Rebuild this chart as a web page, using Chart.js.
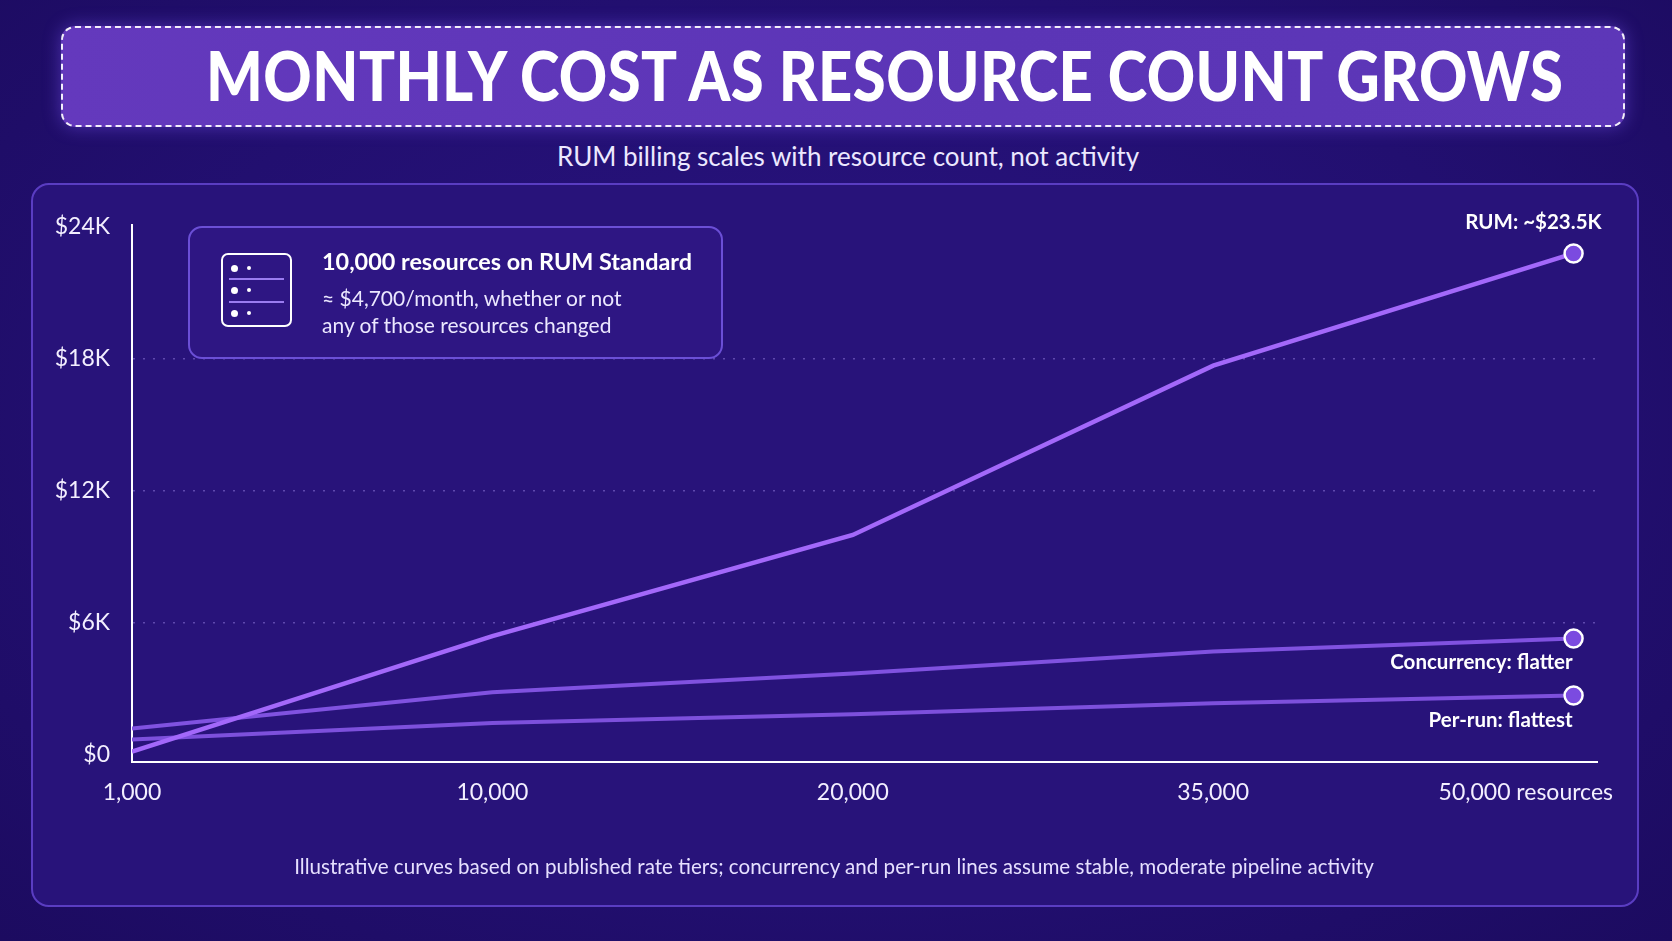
<!DOCTYPE html>
<html>
<head>
<meta charset="utf-8">
<title>Monthly cost as resource count grows</title>
<script src="https://cdn.jsdelivr.net/npm/chart.js@4"></script>
<style>
  html, body { margin: 0; padding: 0; }
  body {
    width: 1672px; height: 941px; position: relative; overflow: hidden;
    font-family: Lato, 'Open Sans', sans-serif; color: #fff;
    background: radial-gradient(ellipse at 50% 45%, #2a1482 0%, #220f70 60%, #1c0b60 100%);
  }
  .titlebox {
    position: absolute; left: 61px; top: 26px; width: 1564px; height: 101px; box-sizing: border-box;
    border: 2.5px dashed rgba(255,255,255,0.92); border-radius: 14px;
    background: linear-gradient(90deg, #6439bd, #5b35b6 60%, #5d37b8);
    box-shadow: 0 0 18px rgba(130,90,255,0.45);
  }
  .title {
    position: absolute; left: 206px; top: 41px; font-size: 68px; line-height: 68px;
    font-weight: 900; letter-spacing: 0.5px; white-space: nowrap; transform-origin: 0 50%;
  }
  .subtitle {
    position: absolute; left: 0; width: 1696px; top: 143px; text-align: center;
    font-size: 26px; line-height: 26px; color: #ece8ff;
  }
  .panel {
    position: absolute; left: 31px; top: 183px; width: 1608px; height: 724px; box-sizing: border-box;
    border: 2px solid #5a3dc2; border-radius: 18px; background: #28137a;
  }
  #chart { position: absolute; left: 31px; top: 183px; }
  .card {
    position: absolute; left: 188px; top: 226px; width: 535px; height: 133px; box-sizing: border-box;
    border: 2px solid #6b4fd6; border-radius: 14px; background: rgba(58,30,150,0.35);
  }
  .icon {
    position: absolute; left: 31px; top: 25px; width: 71px; height: 74px; box-sizing: border-box;
    border: 2px solid #fff; border-radius: 7px;
  }
  .icon .sep { position: absolute; left: 6px; right: 6px; height: 2px; background: #9a7cf0; }
  .icon .dot { position: absolute; border-radius: 50%; background: #fff; }
  .card .h {
    position: absolute; left: 132px; top: 21px; font-size: 23.4px; line-height: 24px; font-weight: 700; white-space: nowrap;
  }
  .card .p {
    position: absolute; left: 132px; top: 56px; font-size: 21px; line-height: 27px; color: #ece8ff; white-space: nowrap;
  }
  .footer {
    position: absolute; left: 0; width: 1668px; top: 856px; text-align: center;
    font-size: 20.6px; line-height: 21px; color: #e6e0ff;
  }
</style>
</head>
<body>
<div class="titlebox"></div>
<div class="title" id="title">MONTHLY COST AS RESOURCE COUNT GROWS</div>
<div class="subtitle">RUM billing scales with resource count, not activity</div>
<div class="panel"></div>
<canvas id="chart" width="1608" height="724"></canvas>
<div class="card">
  <div class="icon">
    <div class="dot" style="left:8px;top:10px;width:7px;height:7px"></div>
    <div class="dot" style="left:24px;top:11px;width:4px;height:4px"></div>
    <div class="sep" style="top:23px"></div>
    <div class="dot" style="left:8px;top:32px;width:7px;height:7px"></div>
    <div class="dot" style="left:24px;top:33px;width:4px;height:4px"></div>
    <div class="sep" style="top:46px"></div>
    <div class="dot" style="left:8px;top:55px;width:7px;height:7px"></div>
    <div class="dot" style="left:24px;top:56px;width:4px;height:4px"></div>
  </div>
  <div class="h">10,000 resources on RUM Standard</div>
  <div class="p">≈ $4,700/month, whether or not<br>any of those resources changed</div>
</div>
<div class="footer">Illustrative curves based on published rate tiers; concurrency and per-run lines assume stable, moderate pipeline activity</div>

<script>
// chart data
const categories = ['1,000', '10,000', '20,000', '35,000', '50,000 resources'];
const rumCost = [150, 5400, 10000, 17700, 22800];
const concurrencyCost = [1200, 2850, 3700, 4700, 5300];
const perRunCost = [700, 1450, 1850, 2350, 2700];
const yTicks = [0, 6000, 12000, 18000, 24000];
const yTickLabels = ['$0', '$6K', '$12K', '$18K', '$24K'];
const seriesNames = ['RUM', 'Concurrency', 'Per-run'];
const endLabels = ['RUM: ~$23.5K', 'Concurrency: flatter', 'Per-run: flattest'];

// squeeze the title to the width of the banner text
const titleEl = document.getElementById('title');
titleEl.style.transform = 'scaleX(' + (1357 / titleEl.scrollWidth) + ')';

function toPoints(values) {
  return values.map((v, i) => ({ x: i, y: v }));
}

function endMarker(values) {
  return values.map((v, i) => i === values.length - 1 ? 9 : 0);
}

// draws the category labels under the axis, kept inside the panel
const xLabelPlugin = {
  id: 'xLabels',
  afterDraw(chart) {
    const scale = chart.scales.x;
    const ctx = chart.ctx;
    const maxRight = chart.width - 26;
    ctx.save();
    ctx.font = '23px Lato, sans-serif';
    ctx.fillStyle = '#f3efff';
    ctx.textAlign = 'center';
    ctx.textBaseline = 'middle';
    categories.forEach((label, i) => {
      let x = scale.getPixelForValue(i);
      const w = ctx.measureText(label).width;
      if (x + w / 2 > maxRight) x = maxRight - w / 2;
      ctx.fillText(label, x, chart.chartArea.bottom + 31);
    });
    ctx.restore();
  }
};

// labels next to the end point of each line
const endLabelPlugin = {
  id: 'endLabels',
  afterDatasetsDraw(chart, args, opts) {
    const ctx = chart.ctx;
    ctx.save();
    ctx.font = 'bold 20.5px Lato, sans-serif';
    ctx.fillStyle = '#ffffff';
    ctx.textAlign = 'right';
    ctx.textBaseline = 'middle';
    chart.data.datasets.forEach((ds, i) => {
      const meta = chart.getDatasetMeta(i);
      const pt = meta.data[meta.data.length - 1];
      const off = opts.offsets[i];
      ctx.fillText(endLabels[i], pt.x + off[0], pt.y + off[1]);
    });
    ctx.restore();
  }
};

const lineColors = ['#a368fa', '#8052e0', '#7d50dc'];

new Chart(document.getElementById('chart'), {
  type: 'line',
  data: {
    datasets: [rumCost, concurrencyCost, perRunCost].map((values, i) => ({
      label: seriesNames[i],
      data: toPoints(values),
      borderColor: lineColors[i],
      borderWidth: i === 0 ? 4.5 : 4,
      tension: 0,
      pointRadius: endMarker(values),
      pointBackgroundColor: '#7b4be0',
      pointBorderColor: '#ffffff',
      pointBorderWidth: 2.5,
      pointHoverRadius: 0
    }))
  },
  plugins: [xLabelPlugin, endLabelPlugin],
  options: {
    responsive: false,
    animation: false,
    events: [],
    layout: { padding: { left: 0, top: 42, right: 42, bottom: 145 } },
    plugins: {
      legend: { display: false },
      tooltip: { enabled: false },
      endLabels: { offsets: [[28, -31], [-1, 24], [-1, 25]] }
    },
    scales: {
      x: {
        type: 'linear',
        min: 0,
        max: 4.065,
        afterBuildTicks(scale) { scale.ticks = categories.map((c, i) => ({ value: i })); },
        afterFit(scale) { scale.height = 0; },
        ticks: { display: false },
        grid: { display: false },
        border: { display: true, color: '#ffffff', width: 2 }
      },
      y: {
        min: -318,
        max: 24091,
        afterBuildTicks(scale) { scale.ticks = yTicks.map(v => ({ value: v })); },
        afterFit(scale) { scale.width = 101; },
        ticks: {
          padding: 22,
          color: '#f3efff',
          font: { family: 'Lato', size: 23 },
          callback: (value) => yTickLabels[yTicks.indexOf(value)]
        },
        grid: {
          drawTicks: false,
          lineWidth: 1.5,
          color: (c) => (c.tick && (c.tick.value === 0 || c.tick.value === 24000)) ? 'rgba(0,0,0,0)' : 'rgba(150,128,225,0.5)'
        },
        border: { display: true, color: '#ffffff', width: 2, dash: [2, 8] }
      }
    }
  }
});
</script>
</body>
</html>
